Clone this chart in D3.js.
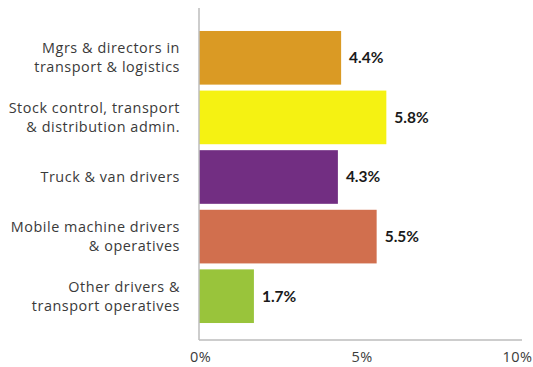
<!DOCTYPE html>
<html>
<head>
<meta charset="utf-8">
<script src="https://cdn.jsdelivr.net/npm/d3@7"></script>
<style>
  body { margin: 0; background: #fff; }
  svg { display: block; font-family: "Open Sans", Lato, sans-serif; }
</style>
</head>
<body>
<svg id="svg" width="533" height="367"></svg>
<script>
var categories = [
  ["Mgrs & directors in", "transport & logistics"],
  ["Stock control, transport", "& distribution admin."],
  ["Truck & van drivers"],
  ["Mobile machine drivers", "& operatives"],
  ["Other drivers &", "transport operatives"]
];
var values = [4.4, 5.8, 4.3, 5.5, 1.7];
var colors = ["#DA9A24", "#F5F212", "#722E82", "#D16F4E", "#99C43B"];
var ticks = [0, 5, 10];

var svg = d3.select("#svg");

var xScale = d3.scaleLinear().domain([0, 10]).range([199, 522]);

var yScale = d3
  .scaleBand()
  .domain(d3.range(values.length))
  .range([28, 326])
  .paddingInner(0.1)
  .paddingOuter(0.05);

//bars
svg
  .append("g")
  .selectAll("rect")
  .data(values)
  .enter()
  .append("rect")
  .attr("x", xScale(0))
  .attr("y", function (d, i) { return yScale(i); })
  .attr("width", function (d) { return xScale(d) - xScale(0); })
  .attr("height", yScale.bandwidth())
  .attr("fill", function (d, i) { return colors[i]; });

//value labels
svg
  .append("g")
  .selectAll("text")
  .data(values)
  .enter()
  .append("text")
  .attr("x", function (d) { return xScale(d) + 8; })
  .attr("y", function (d, i) { return yScale(i) + yScale.bandwidth() / 2; })
  .attr("dy", "0.35em")
  .attr("font-family", "Lato, sans-serif")
  .attr("font-size", 15.5)
  .attr("font-weight", "bold")
  .attr("fill", "#1a1a1a")
  .text(function (d) { return d.toFixed(1) + "%"; });

//category labels
var lineH = 19;
svg
  .append("g")
  .selectAll("text")
  .data(categories)
  .enter()
  .append("text")
  .attr("text-anchor", "end")
  .attr("font-size", 14.4)
  .attr("letter-spacing", 0.55)
  .attr("fill", "#3a3a3a")
  .each(function (lines, i) {
    var cy = yScale(i) + yScale.bandwidth() / 2;
    var y0 = cy - (lines.length - 1) * lineH / 2;
    d3.select(this)
      .selectAll("tspan")
      .data(lines)
      .enter()
      .append("tspan")
      .attr("x", 180)
      .attr("y", function (l, j) { return y0 + j * lineH; })
      .attr("dy", "0.35em")
      .text(function (l) { return l; });
  });

//axes lines
svg.append("line")
  .attr("x1", xScale(0)).attr("x2", xScale(0))
  .attr("y1", 8).attr("y2", 340)
  .attr("stroke", "#bdbdbd").attr("stroke-width", 1.5);
svg.append("line")
  .attr("x1", xScale(0)).attr("x2", xScale(10))
  .attr("y1", 340).attr("y2", 340)
  .attr("stroke", "#bdbdbd").attr("stroke-width", 1.5);

//x tick labels
var xAxis = svg
  .append("g")
  .attr("transform", "translate(0,340)")
  .call(d3.axisBottom(xScale).tickValues(ticks).tickSize(0).tickPadding(12)
    .tickFormat(function (d) { return d + "%"; }));
xAxis.select(".domain").remove();
xAxis.selectAll("text")
  .attr("font-family", "'Open Sans', sans-serif")
  .attr("font-size", 14.5)
  .attr("letter-spacing", 0.4)
  .attr("fill", "#3a3a3a")
  .attr("dx", function (d) { return d === 10 ? -5 : 1; });
</script>
</body>
</html>
